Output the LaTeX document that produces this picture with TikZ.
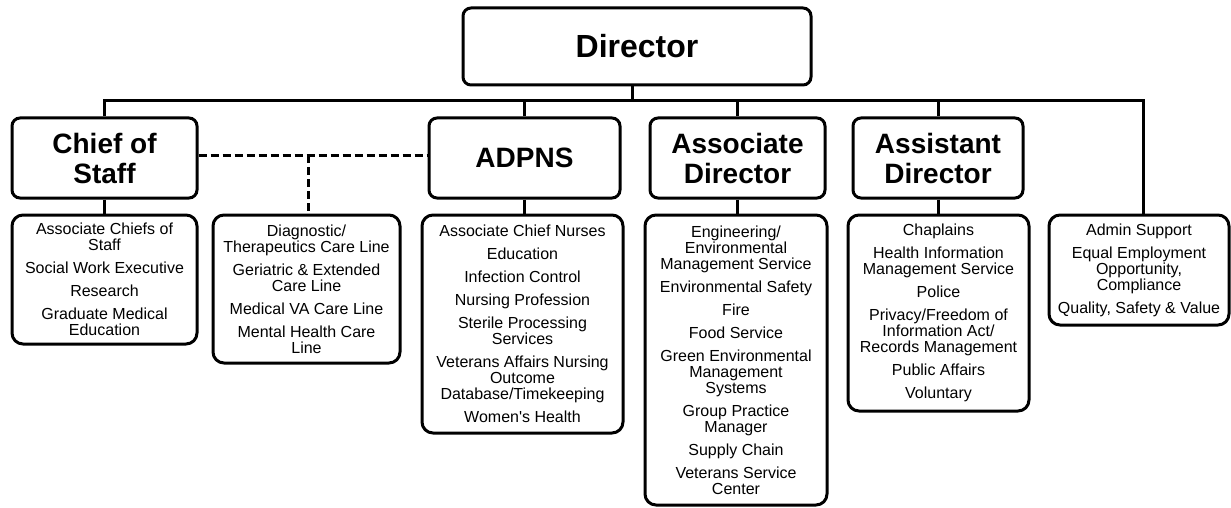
\documentclass[tikz,border=0pt]{standalone}
\usepackage{fontspec}
\setmainfont{Liberation Sans}[Ligatures=TeXOff]
\begin{document}
\begin{tikzpicture}[x=1pt,y=-1pt,
  box/.style={draw=black, line width=3pt, fill=white, inner sep=0pt, align=center},
  topbox/.style={box, rounded corners=8pt, font=\bfseries\fontsize{32}{36}\selectfont},
  headbox/.style={box, rounded corners=8pt, font=\bfseries\fontsize{28}{30}\selectfont},
  subbox/.style={box, rounded corners=11pt, font=\fontsize{16}{16}\selectfont},
  conn/.style={line width=3pt},
  dashconn/.style={line width=3pt, dash pattern=on 8pt off 4pt}
]
\useasboundingbox (0,0) rectangle (1231,508);

% Director
\node[topbox, minimum width=348pt, minimum height=77pt] (dir) at (637,46.5) {Director};

% Level 2
\node[headbox, minimum width=185pt, minimum height=80pt] (cos) at (104.5,158) {Chief of\\Staff};
\node[headbox, minimum width=191pt, minimum height=80pt] (adpns) at (524.5,158) {ADPNS};
\node[headbox, minimum width=175pt, minimum height=80pt] (assoc) at (737.5,158) {Associate\\Director};
\node[headbox, minimum width=170pt, minimum height=80pt] (asst) at (938,158) {Assistant\\Director};

% Level 3
\node[subbox, minimum width=185pt, minimum height=129pt] (cossub) at (104.5,279.5)
  {Associate Chiefs of\\Staff\\[7pt]Social Work Executive\\[7pt]Research\\[7pt]Graduate Medical\\Education};
\node[subbox, minimum width=187pt, minimum height=148pt] (diag) at (306.5,289)
  {Diagnostic/\\Therapeutics Care Line\\[7pt]Geriatric \& Extended\\Care Line\\[7pt]Medical VA Care Line\\[7pt]Mental Health Care\\Line};
\node[subbox, minimum width=201pt, minimum height=218pt] (adpnssub) at (522.5,324)
  {Associate Chief Nurses\\[7pt]Education\\[7pt]Infection Control\\[7pt]Nursing Profession\\[7pt]Sterile Processing\\Services\\[7pt]Veterans Affairs Nursing\\Outcome\\Database/Timekeeping\\[7pt]Women's Health};
\node[subbox, minimum width=182pt, minimum height=290pt] (assocsub) at (736,360)
  {Engineering/\\Environmental\\Management Service\\[7pt]Environmental Safety\\[7pt]Fire\\[7pt]Food Service\\[7pt]Green Environmental\\Management\\Systems\\[7pt]Group Practice\\Manager\\[7pt]Supply Chain\\[7pt]Veterans Service\\Center};
\node[subbox, minimum width=181pt, minimum height=196pt] (asstsub) at (938.5,313)
  {Chaplains\\[7pt]Health Information\\Management Service\\[7pt]Police\\[7pt]Privacy/Freedom of\\Information Act/\\Records Management\\[7pt]Public Affairs\\[7pt]Voluntary};
\node[subbox, minimum width=180pt, minimum height=110pt] (admin) at (1139,270)
  {Admin Support\\[7pt]Equal Employment\\Opportunity,\\Compliance\\[7pt]Quality, Safety \& Value};

% Bus
\coordinate (busL) at (105,101);
\coordinate (busR) at (1143,101);
\draw[conn] ([xshift=-5pt]dir.south) -- ([xshift=-5pt]dir.south |- busL);
\draw[conn] (cos.north) -- (cos.north |- busL) -- (busR) -- (busR |- admin.north);
\draw[conn] (adpns.north) -- (adpns.north |- busL);
\draw[conn] (assoc.north) -- (assoc.north |- busL);
\draw[conn] (asst.north) -- (asst.north |- busL);

% Level 2 to level 3
\draw[conn] (cos.south) -- (cos.south |- cossub.north);
\draw[conn] (adpns.south) -- (adpns.south |- adpnssub.north);
\draw[conn] (assoc.south) -- (assoc.south |- assocsub.north);
\draw[conn] (asst.south) -- (asst.south |- asstsub.north);

% Dashed links
\draw[dashconn] ([yshift=3pt]cos.east) -- ([yshift=3pt]adpns.west);
\coordinate (dj) at ([xshift=1.5pt]diag.north |- 0,155);
\draw[dashconn] (dj) -- ([xshift=1.5pt]diag.north);
\end{tikzpicture}
\end{document}
